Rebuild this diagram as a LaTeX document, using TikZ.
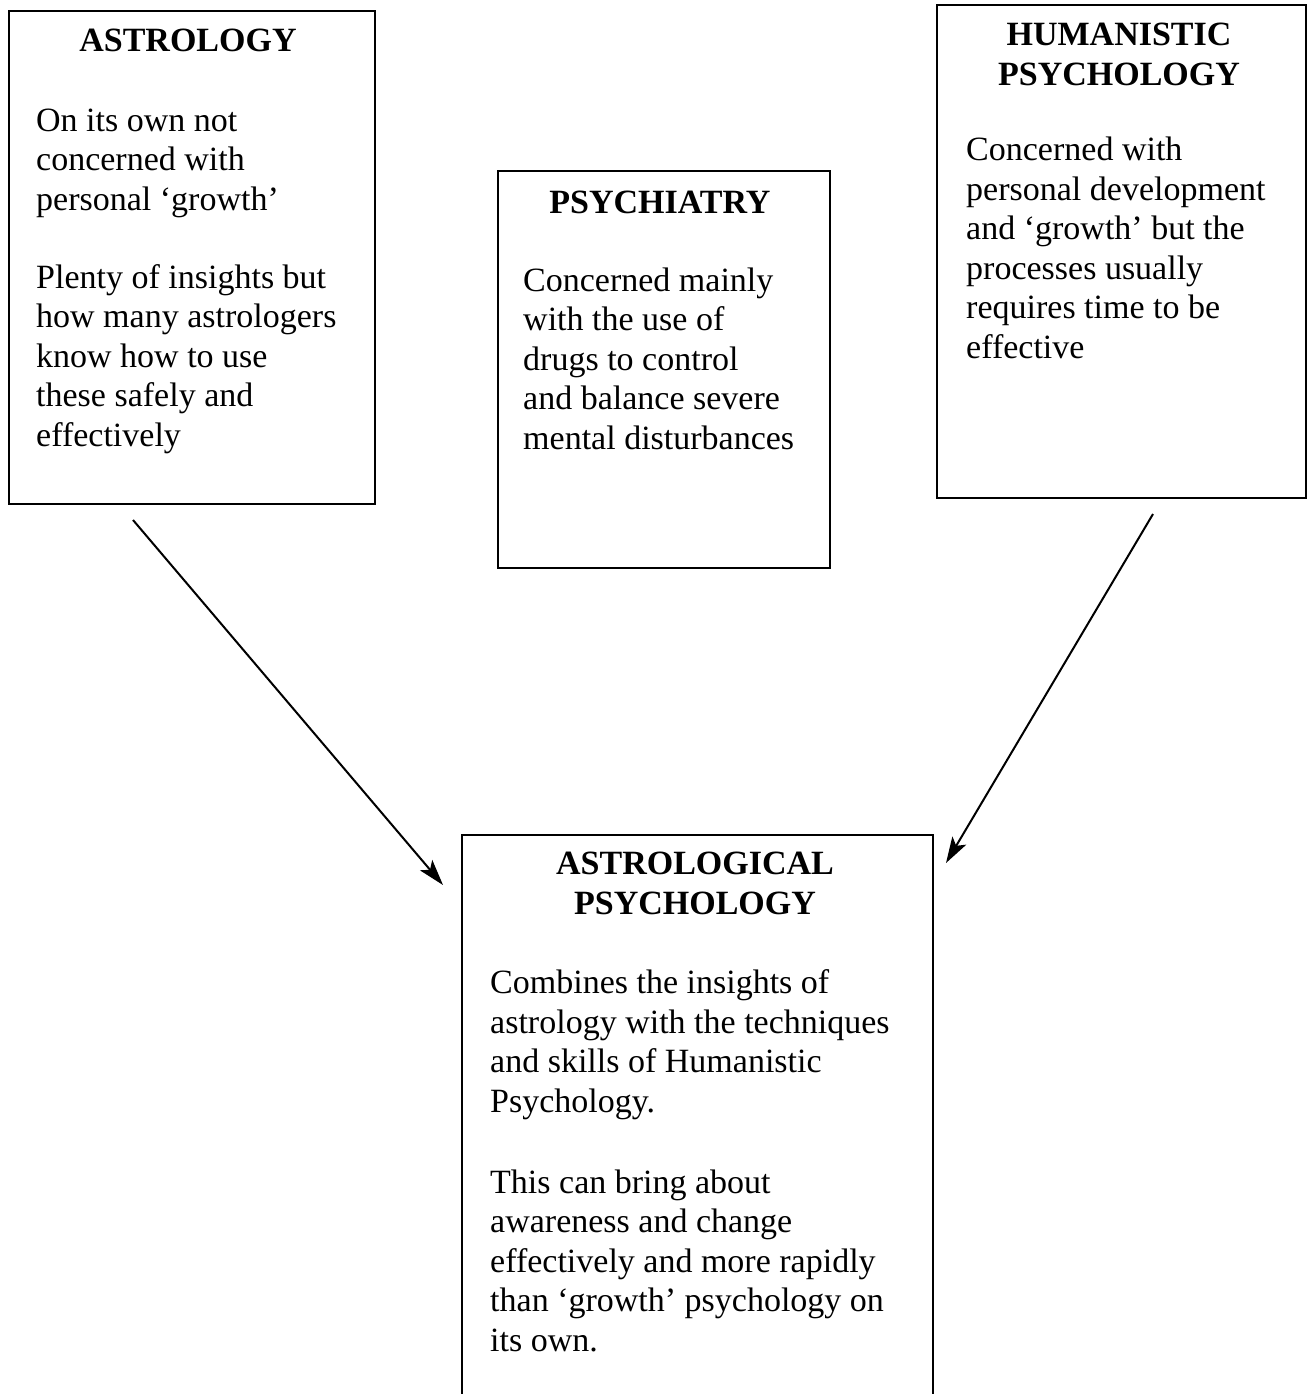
\documentclass[tikz,border=0pt]{standalone}
\usepackage{fontspec}
\setmainfont{Liberation Serif}
\usetikzlibrary{arrows.meta}
\tikzset{
  box/.style={draw=black, line width=1.7pt, rectangle, inner sep=0pt, anchor=north west},
  body/.style={anchor=base west, inner sep=0pt, align=left, font=\fontsize{34}{39.5}\selectfont},
  head/.style={anchor=base, inner sep=0pt, align=center, font=\fontsize{34}{40}\selectfont\bfseries},
  arr/.style={line width=2pt, -{Stealth[length=26pt, width=16pt, inset=6pt]}}
}
\begin{document}
\begin{tikzpicture}[x=1pt, y=-1pt]
\useasboundingbox (0,0) rectangle (1310,1394);
\fill[white] (0,0) rectangle (1310,1394);
% boxes
\node[box, minimum width=366pt, minimum height=493pt] (astro) at (8,10) {};
\node[box, minimum width=332pt, minimum height=397pt] (psych) at (497,170) {};
\node[box, minimum width=369pt, minimum height=493pt] (human) at (936,4) {};
\node[box, minimum width=471pt, minimum height=600pt] (astpsy) at (461,834) {};
% texts (anchor = baseline of last line)
\node[head] (astroH) at (188,52) {ASTROLOGY};
\node[body] (astroT1) at (36,210) {On its own not\\concerned with\\personal ‘growth’};
\node[body] (astroT2) at (36,446) {Plenty of insights but\\how many astrologers\\know how to use\\these safely and\\effectively};
\node[head] (psychH) at (660,213) {PSYCHIATRY};
\node[body] (psychT) at (523,449) {Concerned mainly\\with the use of\\drugs to control\\and balance severe\\mental disturbances};
\node[head] (humanH) at (1119,86) {HUMANISTIC\\PSYCHOLOGY};
\node[body] (humanT) at (966,358) {Concerned with\\personal development\\and ‘growth’ but the\\processes usually\\requires time to be\\effective};
\node[head] (astpsyH) at (695,914) {ASTROLOGICAL\\PSYCHOLOGY};
\node[body] (astpsyT1) at (490,1112) {Combines the insights of\\astrology with the techniques\\and skills of Humanistic\\Psychology.};
\node[body] (astpsyT2) at (490,1351) {This can bring about\\awareness and change\\effectively and more rapidly\\than ‘growth’ psychology on\\its own.};
% arrows
\coordinate (a1s) at (133,520);
\coordinate (a1e) at (443,885);
\coordinate (a2s) at (1153,514);
\coordinate (a2e) at (946,863);
\draw[arr] (a1s) -- (a1e);
\draw[arr] (a2s) -- (a2e);
\end{tikzpicture}
\end{document}
